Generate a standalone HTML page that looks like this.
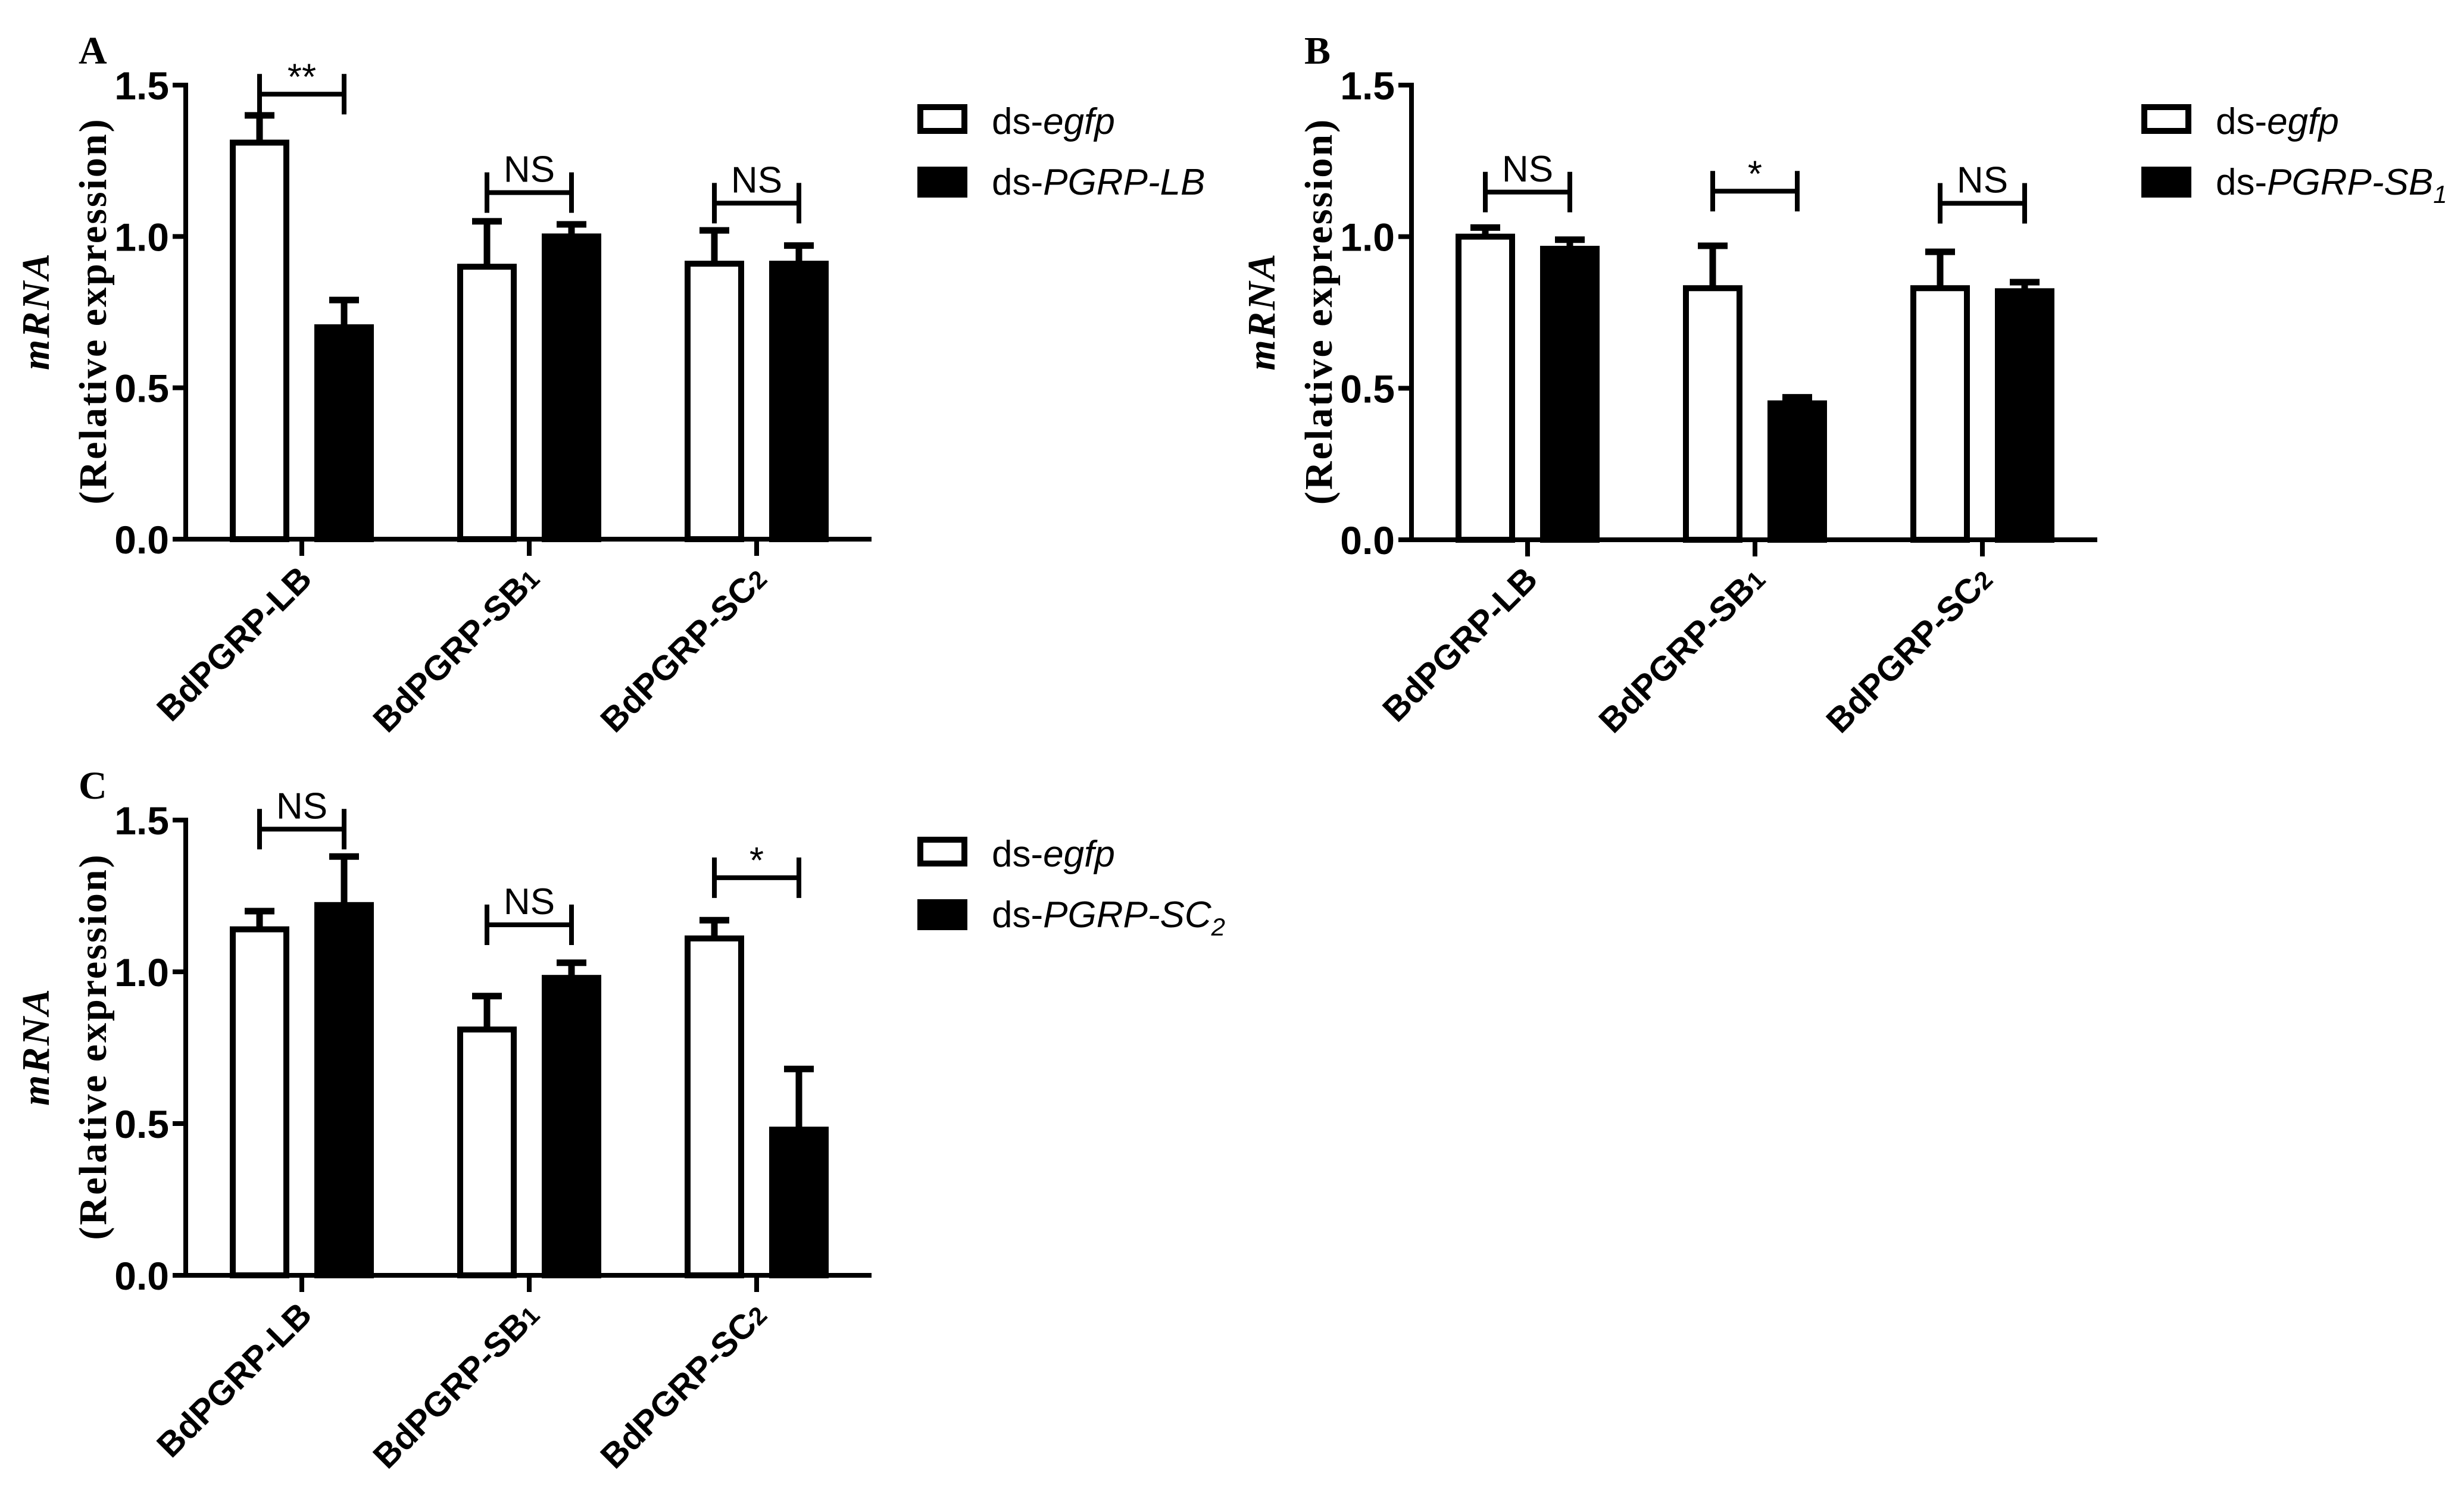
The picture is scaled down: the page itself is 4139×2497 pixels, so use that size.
<!DOCTYPE html>
<html><head><meta charset="utf-8"><style>
html,body{margin:0;padding:0;background:#fff;}
svg{display:block;}
.tick{font-family:"Liberation Sans Narrow","Liberation Sans",sans-serif;font-weight:bold;font-size:66px;}
.cat{font-family:"Liberation Sans",sans-serif;font-weight:bold;font-size:58px;}
.leg{font-family:"Liberation Sans",sans-serif;font-size:62px;}
.sig{font-family:"Liberation Sans Narrow","Liberation Sans",sans-serif;font-size:62px;}
.ttl{font-family:"Liberation Serif",serif;font-weight:bold;font-size:66px;letter-spacing:3px;}
.let{font-family:"Liberation Serif",serif;font-weight:bold;font-size:66px;}
</style></head><body>
<svg id="fig" width="4139" height="2497" viewBox="0 0 4139 2497" xmlns="http://www.w3.org/2000/svg"></svg>
<script>
const categories = ["BdPGRP-LB","BdPGRP-SB","BdPGRP-SC"];
const catSubs = ["","1","2"];
const yTicks = [0.0,0.5,1.0,1.5];
const yTickLabels = ["0.0","0.5","1.0","1.5"];
// Panel A
const aEgfp = [1.31,0.90,0.91];
const aEgfpErr = [0.09,0.15,0.11];
const aKd = [0.70,1.00,0.91];
const aKdErr = [0.09,0.04,0.06];
const aSig = ["**","NS","NS"];
const aSigVal = [1.47,1.145,1.11];
// Panel B
const bEgfp = [1.00,0.83,0.83];
const bEgfpErr = [0.03,0.14,0.12];
const bKd = [0.96,0.45,0.82];
const bKdErr = [0.03,0.02,0.03];
const bSig = ["NS","*","NS"];
const bSigVal = [1.147,1.15,1.11];
// Panel C
const cEgfp = [1.14,0.81,1.11];
const cEgfpErr = [0.06,0.11,0.06];
const cKd = [1.22,0.98,0.48];
const cKdErr = [0.16,0.05,0.20];
const cSig = ["NS","NS","*"];
const cSigVal = [1.47,1.155,1.31];

const panels = [
 {name:"panel-a",letter:"A",ax:312,y0:906,y15:143,eg:aEgfp,ege:aEgfpErr,kd:aKd,kde:aKdErr,sig:aSig,sv:aSigVal,legX:1541,legY:175,kdLabel:"PGRP-LB",kdSub:""},
 {name:"panel-b",letter:"B",ax:2371,y0:907,y15:143,eg:bEgfp,ege:bEgfpErr,kd:bKd,kde:bKdErr,sig:bSig,sv:bSigVal,legX:3597,legY:175,kdLabel:"PGRP-SB",kdSub:"1"},
 {name:"panel-c",letter:"C",ax:312,y0:2143,y15:1378,eg:cEgfp,ege:cEgfpErr,kd:cKd,kde:cKdErr,sig:cSig,sv:cSigVal,legX:1541,legY:1406,kdLabel:"PGRP-SC",kdSub:"2"}
];
const NS="http://www.w3.org/2000/svg";
const svg=document.getElementById('fig');
function mk(tag,attrs,parent){const e=document.createElementNS(NS,tag);for(const k in attrs)e.setAttribute(k,attrs[k]);(parent||svg).appendChild(e);return e;}

panels.forEach(p=>{
 const g=mk('g',{});
 
 
 const ys=v=>p.y0-(p.y0-p.y15)*v/1.5;
 const xc=i=>p.ax+195+i*382;
 const L=mk('text',{x:p.ax-180,y:p.y15-36,class:'let'},g);L.textContent=p.letter;
 
 
 const cy=(p.y0+p.y15)/2-2;
 const t1=mk('text',{x:0,y:0,class:'ttl','text-anchor':'middle',transform:`translate(${p.ax-134},${cy}) rotate(-90)`},g);
 t1.textContent="(Relative expression)";
 
 
 const t2=mk('text',{x:0,y:0,class:'ttl','text-anchor':'middle','font-style':'italic',transform:`translate(${p.ax-230},${cy}) rotate(-90)`},g);
 t2.textContent="mRNA";
 
 
 const ya=mk('line',{x1:p.ax,y1:p.y15-4,x2:p.ax,y2:p.y0+4,stroke:'#000','stroke-width':8},g);
 
 
 yTicks.forEach((v,i)=>{
  mk('line',{x1:p.ax-22,y1:ys(v),x2:p.ax,y2:ys(v),stroke:'#000','stroke-width':8},g);
  const tl=mk('text',{x:p.ax-28,y:ys(v)+24,class:'tick','text-anchor':'end'},g);tl.textContent=yTickLabels[i];
  
  
 });
 categories.forEach((c,i)=>{
  const x=xc(i);
  [[p.eg[i],p.ege[i],x-121,'#fff','egfp'],[p.kd[i],p.kde[i],x+21,'#000','kd']].forEach(([v,e,bx,fill,nm])=>{
   const top=ys(v+e), cx=bx+50;
   const el=mk('line',{x1:cx,y1:ys(v),x2:cx,y2:top,stroke:'#000','stroke-width':11},g);
   
   
   mk('line',{x1:cx-25,y1:top,x2:cx+25,y2:top,stroke:'#000','stroke-width':11},g);
   const r=mk('rect',{x:bx+5,y:ys(v),width:90,height:p.y0-ys(v),fill:fill,stroke:'#000','stroke-width':10},g);
   
   
  });
  const by=ys(p.sv[i]), l=x-71, rr=x+71;
  const br=mk('path',{d:`M${l},${by-34}V${by+34}M${l},${by}H${rr}M${rr},${by-34}V${by+34}`,stroke:'#000','stroke-width':8,fill:'none'},g);
  
  
  const st=mk('text',{x:x,y:by-(p.sig[i]=="NS"?18:8),class:'sig','text-anchor':'middle'},g);st.textContent=p.sig[i];
  
  
  mk('line',{x1:x,y1:p.y0,x2:x,y2:p.y0+28,stroke:'#000','stroke-width':8},g);
  const ct=mk('text',{x:0,y:0,class:'cat','text-anchor':'end',transform:`translate(${x+20},${p.y0+70}) rotate(-45)`},g);
  ct.textContent=c;
  if(catSubs[i]){const s=mk('tspan',{'font-size':'42px',dy:'0'},ct);s.textContent=catSubs[i];}
  
  
 });
 const xa=mk('line',{x1:p.ax-4,y1:p.y0,x2:p.ax+1152,y2:p.y0,stroke:'#000','stroke-width':8},g);
 
 
 const lw=mk('rect',{x:p.legX+5,y:p.legY+5,width:74,height:40,fill:'#fff',stroke:'#000','stroke-width':10},g);
 
 
 const lt=mk('text',{x:p.legX+125,y:p.legY+50,class:'leg'},g);
 lt.innerHTML='ds-<tspan font-style="italic">egfp</tspan>';
 
 
 const lb=mk('rect',{x:p.legX,y:p.legY+105,width:84,height:52,fill:'#000'},g);
 
 
 const lt2=mk('text',{x:p.legX+125,y:p.legY+152,class:'leg'},g);
 lt2.innerHTML='ds-<tspan font-style="italic">'+p.kdLabel+'</tspan>'+(p.kdSub?'<tspan font-style="italic" font-size="42px" dy="14">'+p.kdSub+'</tspan>':'');
 
 
});
</script>
</body></html>
